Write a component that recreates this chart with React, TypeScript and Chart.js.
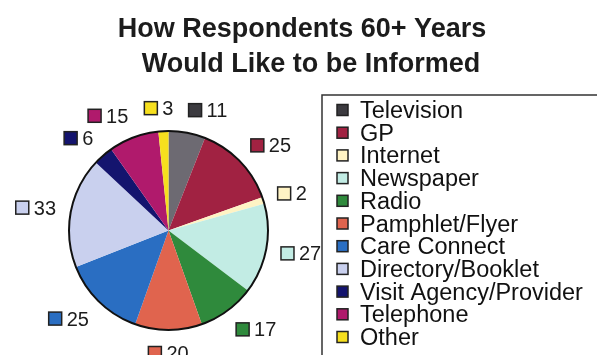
import React, { useEffect, useRef } from "react";
import { Chart, registerables } from "chart.js";
Chart.register(...registerables);

const titleLines = ["How Respondents 60+ Years", "Would Like to be Informed"];
const categories = [
  "Television",
  "GP",
  "Internet",
  "Newspaper",
  "Radio",
  "Pamphlet/Flyer",
  "Care Connect",
  "Directory/Booklet",
  "Visit Agency/Provider",
  "Telephone",
  "Other",
];
const values = [11, 25, 2, 27, 17, 20, 25, 33, 6, 15, 3];
const sliceColors = [
  "#6d6a72",
  "#a12242",
  "#fff3c4",
  "#c2ece4",
  "#2f8a3c",
  "#e0644e",
  "#2a6ec2",
  "#c9d0ee",
  "#14146e",
  "#b01a6c",
  "#f6df1e",
];
const keyColors = [
  "#3c3b40",
  "#a12242",
  "#fff3c4",
  "#c2ece4",
  "#2f8a3c",
  "#e0644e",
  "#2a6ec2",
  "#c9d0ee",
  "#14146e",
  "#b01a6c",
  "#f6df1e",
];

const FONT = "'Liberation Sans', Arial, Helvetica, sans-serif";

const drawPlugin = {
  id: "customDraw",
  afterDraw(chart: any) {
    const ctx = chart.ctx as CanvasRenderingContext2D;
    ctx.save();

    // Title
    ctx.fillStyle = "#1c1c1c";
    ctx.font = `bold 27px ${FONT}`;
    ctx.textAlign = "center";
    ctx.textBaseline = "alphabetic";
    ctx.fillText(titleLines[0], 302, 37);
    ctx.fillText(titleLines[1], 311, 72);

    const meta = chart.getDatasetMeta(0);
    const arcs = meta.data;
    if (arcs.length) {
      const cx = arcs[0].x;
      const cy = arcs[0].y;
      const R = arcs[0].outerRadius;

      // outer circle
      ctx.beginPath();
      ctx.arc(cx, cy, R, 0, Math.PI * 2);
      ctx.strokeStyle = "#111";
      ctx.lineWidth = 2;
      ctx.stroke();

      // data labels
      ctx.font = `20px ${FONT}`;
      ctx.textAlign = "left";
      ctx.textBaseline = "alphabetic";
      arcs.forEach((arc: any, i: number) => {
        const mid = (arc.startAngle + arc.endAngle) / 2;
        const dx = Math.cos(mid);
        const dy = Math.sin(mid);
        const px = cx + (R + 15) * dx;
        const py = cy + (R + 15) * dy;
        const txt = String(values[i]);
        const tw = ctx.measureText(txt).width;
        const sq = 13;
        const gap = 5;
        const w = sq + gap + tw;
        const h = 16;
        const s = Math.max(-1, Math.min(1, 5 * dx));
        const left = px - (w * (1 - s)) / 2;
        const mcy = py + (h / 2) * dy;
        ctx.fillStyle = keyColors[i];
        ctx.fillRect(left, mcy - sq / 2, sq, sq);
        ctx.strokeStyle = "#222";
        ctx.lineWidth = 1.5;
        ctx.strokeRect(left, mcy - sq / 2, sq, sq);
        ctx.fillStyle = "#1c1c1c";
        ctx.fillText(txt, left + sq + gap, mcy + 7);
      });
    }

    // Legend frame
    ctx.beginPath();
    ctx.moveTo(322, 355);
    ctx.lineTo(322, 95);
    ctx.lineTo(597, 95);
    ctx.strokeStyle = "#333";
    ctx.lineWidth = 1.5;
    ctx.stroke();

    // Legend items
    ctx.font = `23.5px ${FONT}`;
    ctx.textAlign = "left";
    ctx.textBaseline = "alphabetic";
    categories.forEach((c, i) => {
      const y = 110 + i * 22.7;
      ctx.fillStyle = keyColors[i];
      ctx.fillRect(337, y - 5.5, 11, 11);
      ctx.strokeStyle = "#222";
      ctx.lineWidth = 1.5;
      ctx.strokeRect(337, y - 5.5, 11, 11);
      ctx.fillStyle = "#111";
      ctx.fillText(c, 360, y + 8);
    });

    ctx.restore();
  },
};

export default function App() {
  const ref = useRef<HTMLCanvasElement | null>(null);
  useEffect(() => {
    if (!ref.current) return;
    const chart = new Chart(ref.current, {
      type: "pie",
      data: {
        labels: categories,
        datasets: [
          {
            data: values,
            backgroundColor: sliceColors,
            borderWidth: 0,
          },
        ],
      },
      options: {
        responsive: false,
        animation: false,
        layout: { padding: { left: 69, right: 329, top: 131, bottom: 25 } },
        plugins: {
          legend: { display: false },
          title: { display: false },
          tooltip: { enabled: false },
        },
      },
      plugins: [drawPlugin],
    });
    return () => chart.destroy();
  }, []);
  return (
    <div style={{ position: "absolute", left: 0, top: 0, width: 597, height: 355, background: "#fff" }}>
      <canvas ref={ref} width={597} height={355} style={{ display: "block" }} />
    </div>
  );
}
